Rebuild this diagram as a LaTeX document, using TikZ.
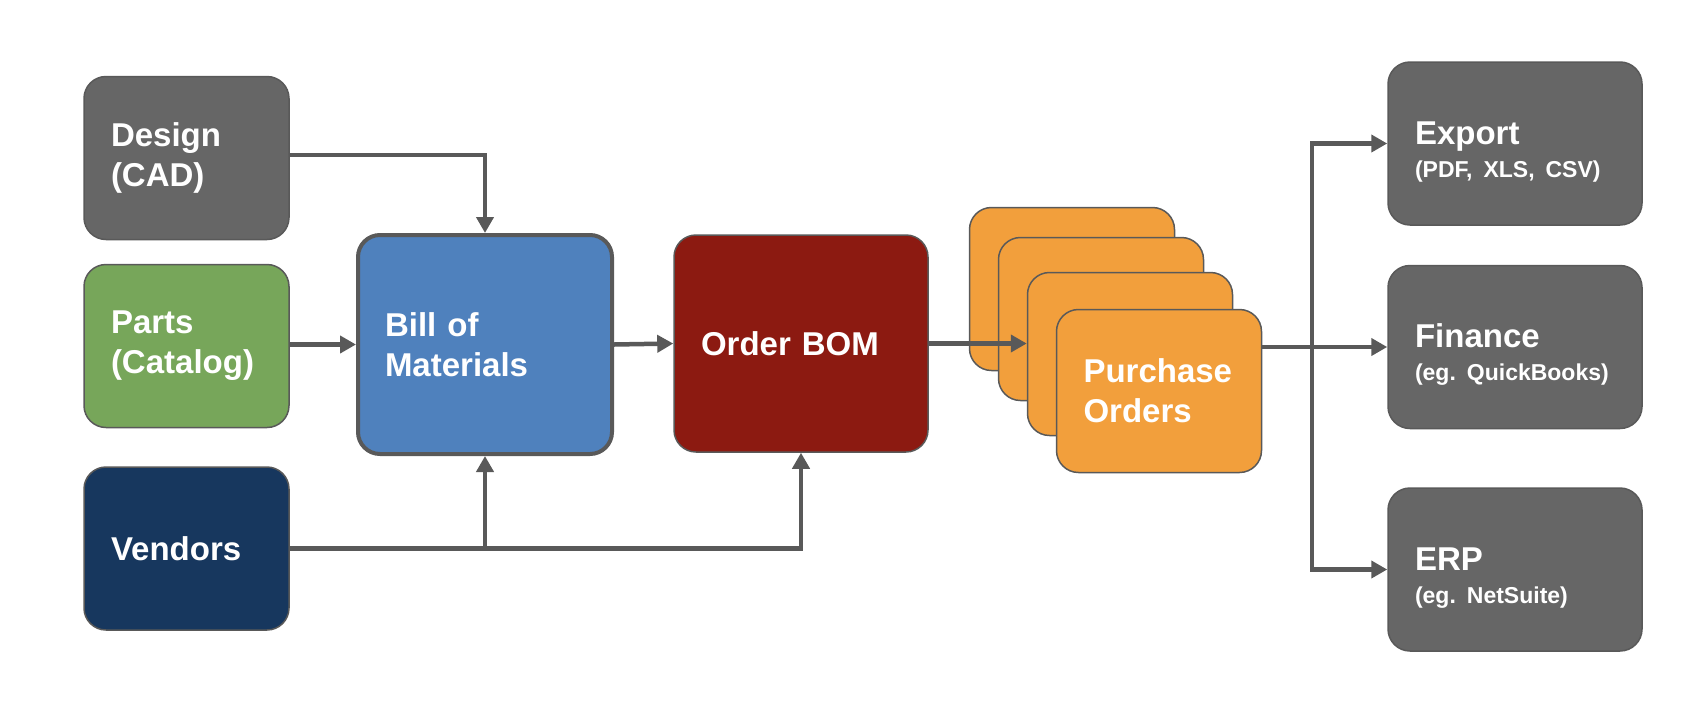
\documentclass[tikz,border=0pt]{standalone}
\usepackage{fontspec}
\setmainfont{Liberation Sans}
\usetikzlibrary{arrows.meta, positioning}
\definecolor{boxgray}{HTML}{666666}
\definecolor{partgreen}{HTML}{77A65A}
\definecolor{vendnavy}{HTML}{17375E}
\definecolor{bomblue}{HTML}{4F81BD}
\definecolor{orderred}{HTML}{8C1A11}
\definecolor{poorange}{HTML}{F29F3C}
\definecolor{linegray}{HTML}{595959}
\newcommand{\subl}[1]{\mbox{\fontsize{23}{28}\selectfont\frenchspacing #1}}
\newcommand{\toprule}{\rule{0pt}{39pt}}

\begin{document}
\begin{tikzpicture}[
        x=1pt,
        y=-1pt,
        >={Triangle[length=16pt, width=17pt]},
        every node/.style={font=\bfseries\fontsize{33}{40}\selectfont, text=white, align=left},
        block/.style={draw=linegray, line width=1.5pt, rounded corners=22pt, minimum height=163pt, inner xsep=27pt, text width=151pt},
        wide/.style={block, text width=200pt},
        link/.style={draw=linegray, line width=4.5pt}
    ]
    \useasboundingbox (0,0) rectangle (1696,710);

    \node[block, fill=boxgray] (design) at (186.5,158) {Design\\(CAD)};
    \node[block, fill=partgreen] (parts) at (186.5,346) {Parts\\(Catalog)};
    \node[block, fill=vendnavy] (vendors) at (186.5,548.5) {Vendors};

    \node[wide, fill=bomblue, line width=4pt, minimum height=219pt] (bom) at (485,344.5) {Bill of\\Materials};
    \node[wide, fill=orderred, minimum height=217pt] (order) at (801,343.5) {Order BOM};

    \node[block, fill=poorange] (po1) at (1072,289) {};
    \node[block, fill=poorange] (po2) at (1101,319) {};
    \node[block, fill=poorange] (po3) at (1130,354) {};
    \node[block, fill=poorange] (po4) at (1159,391) {Purchase\\Orders};

    \node[wide, fill=boxgray] (export) at (1515,143.5) {\toprule Export\\[-7pt]\subl{(PDF, XLS, CSV)}};
    \node[wide, fill=boxgray] (finance) at (1515,347) {\toprule Finance\\[-7pt]\subl{(eg. QuickBooks)}};
    \node[wide, fill=boxgray] (erp) at (1515,569.5) {\toprule ERP\\[-7pt]\subl{(eg. NetSuite)}};

    \draw[link, ->] (design.east |- 0,155) -| (bom.north);
    \draw[link, ->] (parts.east |- bom.west) -- (bom.west);
    \draw[link, ->] (bom.east) -- (order.west);
    \draw[link, ->] (vendors.east) -| (order.south);
    \draw[link, ->] (vendors.east -| bom.south) -- (bom.south);
    \draw[link, ->] (order.east) -- (order.east -| po3.west);

    \coordinate (fork) at (1312,347);
    \draw[link] (po4.east |- fork) -- (fork);
    \draw[link, ->] (fork) -- (finance.west);
    \draw[link, ->] (fork) |- (export.west);
    \draw[link, ->] (fork) |- (erp.west);
\end{tikzpicture}
\end{document}
